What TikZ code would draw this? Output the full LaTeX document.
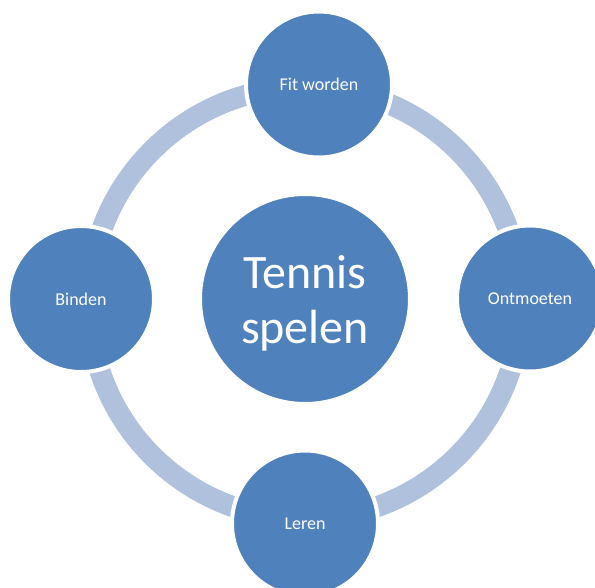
\documentclass[tikz,border=0pt]{standalone}
\usepackage{fontspec}
\setmainfont{Carlito}
\definecolor{blauw}{RGB}{79,129,189}
\definecolor{lichtblauw}{RGB}{176,193,221}
\tikzset{
  bol/.style={circle,fill=blauw,draw=white,line width=4pt,inner sep=0pt,
    minimum size=146pt,text=white,font=\fontsize{18}{22}\selectfont},
  ring/.style={draw=lichtblauw,line width=21pt}
}
\begin{document}
\begin{tikzpicture}[x=1pt,y=-1pt]
                \useasboundingbox (0,0) rectangle (595,587);
                \coordinate (hub) at (305,303);
                \draw[ring] (hub) circle[radius=216pt];
                \node[bol,minimum size=210pt,align=center,
                  font=\fontsize{48}{55}\selectfont] (tennis) at (305,299) {Tennis\\\smash{spelen}};
                \node[bol] (fit) at (319,84.5) {Fit worden};
                \node[bol] (ontmoeten) at (530,298.5) {Ontmoeten};
                \node[bol] (leren) at (305,523.5) {Leren};
                \node[bol] (binden) at (81,299) {Binden};
            \end{tikzpicture}
\end{document}
